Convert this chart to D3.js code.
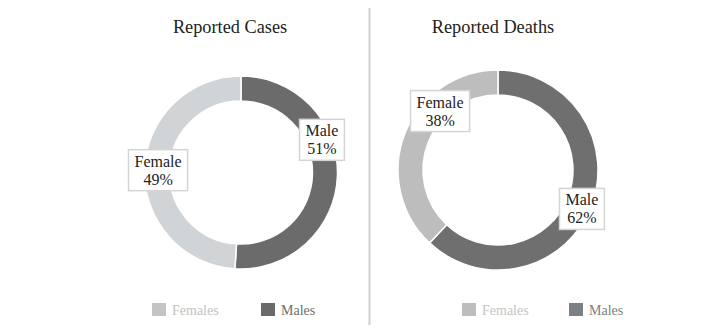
<!DOCTYPE html>
<html><head><meta charset="utf-8">
<script src="https://cdn.jsdelivr.net/npm/d3@7"></script>
<style>body{margin:0;background:#fff}svg{display:block}</style>
</head><body>
<svg id="c" width="719" height="334"></svg>
<script>
// data
const chartTitles = ["Reported Cases", "Reported Deaths"];
const sliceNames = ["Male", "Female"];
const casesValues = [51, 49];
const deathsValues = [62, 38];
const legendLabels = ["Females", "Males"];

const svg = d3.select("#c");
const font = "'Liberation Serif', 'Times New Roman', serif";

const panels = [
  {title: chartTitles[0], values: casesValues, cx: 241, cy: 172.5, r: 96.5, ir: 71.5,
   colors: {Male: "#6b6b6b", Female: "#d1d4d7"}, titleX: 230,
   labelOffset: {Male: [-9, -36], Female: [7, 0]},
   legend: {x: 152, colors: ["#c4c4c4", "#6a6a6a"], text: ["#c2c2c2", "#6e6e6e"], gap: 109}},
  {title: chartTitles[1], values: deathsValues, cx: 498, cy: 170, r: 100, ir: 75,
   colors: {Male: "#6f6f6f", Female: "#bdbdbd"}, titleX: 493,
   labelOffset: {Male: [-3, 4], Female: [29, -25]},
   legend: {x: 462, colors: ["#bdbdbd", "#7b7e83"], text: ["#c4c4c4", "#7b7e83"], gap: 107}}
];

// divider
svg.append("line").attr("x1", 369.5).attr("x2", 369.5).attr("y1", 8).attr("y2", 325)
  .attr("stroke", "#cfcfcf").attr("stroke-width", 2);

panels.forEach(p => {
  const g = svg.append("g");
  g.append("text").attr("x", p.titleX).attr("y", 33).attr("text-anchor", "middle")
    .attr("font-family", font).attr("font-size", 18.3).attr("fill", "#222").text(p.title);

  const data = sliceNames.map((n, i) => ({name: n, value: p.values[i]}));
  const pie = d3.pie().sort(null).value(d => d.value);
  const arc = d3.arc().innerRadius(p.ir).outerRadius(p.r);
  const arcs = pie(data);
  const pg = g.append("g").attr("transform", `translate(${p.cx},${p.cy})`);
  pg.selectAll("path").data(arcs).join("path")
    .attr("d", arc).attr("fill", d => p.colors[d.data.name])
    .attr("stroke", "#fff").attr("stroke-width", 1.5);

  const labelArc = d3.arc().innerRadius(p.ir + 6).outerRadius(p.r + 6);
  arcs.forEach(a => {
    const c = labelArc.centroid(a);
    const off = p.labelOffset[a.data.name];
    const lx = c[0] + off[0], ly = c[1] + off[1];
    const lg = pg.append("g").attr("transform", `translate(${lx},${ly})`);
    const t = lg.append("text").attr("text-anchor", "middle")
      .attr("font-family", font).attr("font-size", 16).attr("fill", "#222");
    t.append("tspan").attr("x", 0).attr("y", -3).text(a.data.name);
    t.append("tspan").attr("x", 0).attr("y", 15).text(a.data.value + "%");
    const bb = t.node().getBBox();
    lg.insert("rect", "text").attr("x", bb.x - 6).attr("y", -20)
      .attr("width", bb.width + 12).attr("height", 41)
      .attr("fill", "#fff").attr("stroke", "#d4d4d4").attr("stroke-width", 1.5);
  });

  legendLabels.forEach((l, i) => {
    const x = p.legend.x + i * p.legend.gap;
    g.append("rect").attr("x", x).attr("y", 303).attr("width", 14).attr("height", 13)
      .attr("fill", p.legend.colors[i]);
    g.append("text").attr("x", x + 20).attr("y", 315)
      .attr("font-family", font).attr("font-size", 14).attr("fill", p.legend.text[i]).text(l);
  });
});
</script>
</body></html>
